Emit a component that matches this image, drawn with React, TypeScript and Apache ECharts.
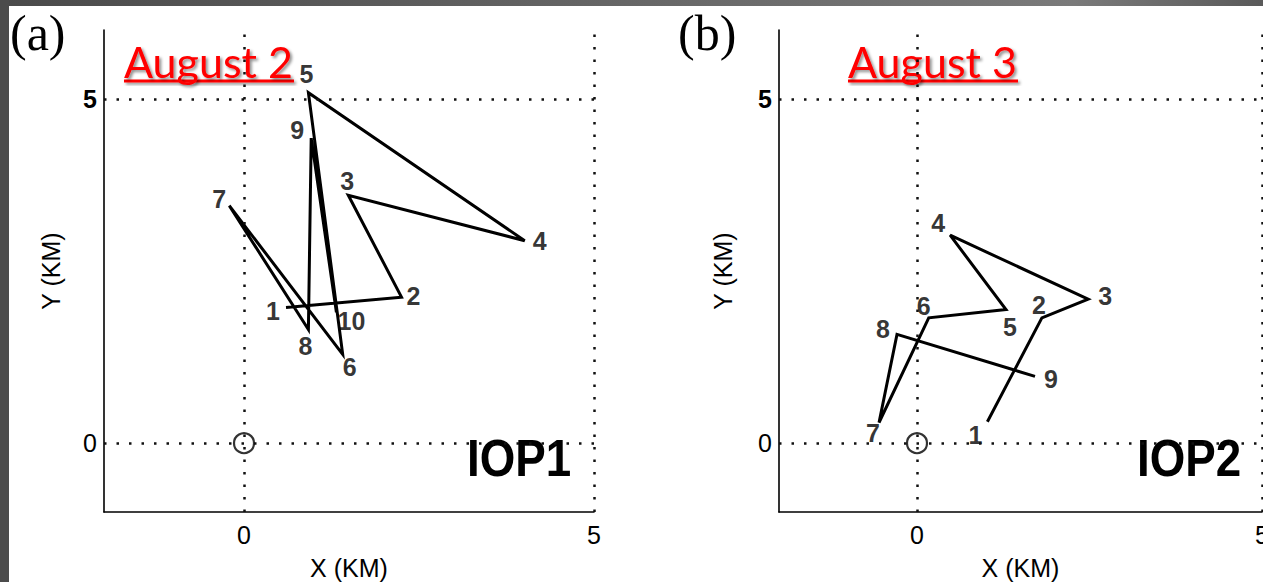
import React, { useEffect, useRef } from 'react';
import * as echarts from 'echarts';

// ---- data ----
const pointNames1 = ['1', '2', '3', '4', '5', '6', '7', '8', '9', '10'];
const iop1X = [0.6, 2.25, 1.49, 4.01, 0.92, 1.41, -0.21, 0.92, 0.96, 1.32];
const iop1Y = [1.97, 2.12, 3.6, 2.94, 5.09, 1.29, 3.45, 1.65, 4.43, 1.9];

const pointNames2 = ['1', '2', '3', '4', '5', '6', '7', '8', '9'];
const iop2X = [1.02, 1.81, 2.48, 0.48, 1.29, 0.17, -0.55, -0.29, 1.71];
const iop2Y = [0.31, 1.82, 2.09, 3.02, 1.94, 1.82, 0.3, 1.58, 0.97];

const xTickValues = [0, 5];
const yTickValues = [0, 5];
const gridLinesX = [0, 5];
const gridLinesY = [0, 5];
const originPoint = [0, 0];

const panelTitles = ['(a)', '(b)'];
const dateTitles = ['August 2', 'August 3'];
const iopTitles = ['IOP1', 'IOP2'];

// label placement (pixel offsets from each vertex)
const labelOffsets1 = [[-13, 4], [12, -1], [-1, -14], [15, 0], [-2, -19], [7, 13], [-10, -7], [-3, 16], [-14, -8], [15, 9]];
const labelOffsets2 = [[-12, 13], [-3, -13], [17, -3], [-12, -12], [4, 17], [-5, -12], [-6, 11], [-14, -5], [16, 3]];

const SANS = '"Liberation Sans", Arial, Helvetica, sans-serif';
const SERIF = '"Liberation Serif", "Times New Roman", serif';
const CAL = 'Lato, "Open Sans", sans-serif';

function axisX(gridIndex: number) {
  return {
    gridIndex,
    type: 'value',
    min: -2,
    max: 5,
    interval: 1,
    axisLine: { show: true, onZero: false, lineStyle: { color: '#000', width: 1.6 } },
    axisTick: { show: false },
    splitLine: { show: false },
    axisLabel: {
      formatter: (v: number) => (xTickValues.includes(v) ? String(v) : ''),
      fontSize: 25,
      color: '#000',
      margin: 10,
      fontFamily: SANS,
      showMinLabel: true,
      showMaxLabel: true,
      hideOverlap: false,
    },
    name: 'X (KM)',
    nameLocation: 'middle',
    nameGap: 43,
    nameTextStyle: { fontSize: 25, color: '#000', fontFamily: SANS },
  };
}

function axisY(gridIndex: number, gap: number) {
  return {
    gridIndex,
    type: 'value',
    min: -1,
    max: 6,
    interval: 1,
    axisLine: { show: true, onZero: false, lineStyle: { color: '#000', width: 1.6 } },
    axisTick: { show: false },
    splitLine: { show: false },
    axisLabel: {
      formatter: (v: number) => (yTickValues.includes(v) ? (v === 5 ? '{b|' + v + '}' : String(v)) : ''),
      fontSize: 25,
      color: '#000',
      margin: 7,
      fontFamily: SANS,
      rich: { b: { fontSize: 25, fontWeight: 'bold', color: '#000', fontFamily: SANS } },
    },
    name: 'Y (KM)',
    nameLocation: 'middle',
    nameGap: gap,
    nameTextStyle: { fontSize: 25, color: '#000', fontFamily: SANS },
  };
}

function panelSeries(idx: number, xs: number[], ys: number[], names: string[], offs: number[][]) {
  return [
    {
      type: 'line',
      xAxisIndex: idx,
      yAxisIndex: idx,
      data: xs.map((x, i) => [x, ys[i]]),
      symbol: 'none',
      lineStyle: { color: '#000', width: 3, join: 'miter' },
      z: 3,
      markLine: {
        silent: true,
        symbol: ['none', 'none'],
        label: { show: false },
        lineStyle: { type: [2.5, 10], color: '#111', width: 2.5 },
        data: [
          ...gridLinesX.map((v) => ({ xAxis: v })),
          ...gridLinesY.map((v) => ({ yAxis: v })),
        ],
      },
    },
    {
      type: 'scatter',
      xAxisIndex: idx,
      yAxisIndex: idx,
      symbolSize: 1,
      itemStyle: { color: 'rgba(0,0,0,0)' },
      z: 4,
      label: {
        show: true,
        position: 'inside',
        formatter: '{b}',
        fontSize: 25,
        fontWeight: 'bold',
        color: '#000',
        textBorderWidth: 0,
        textBorderColor: 'transparent',
        fontFamily: SANS,
      },
      data: names.map((n, i) => ({ name: n, value: [xs[i], ys[i]], label: { offset: offs[i] } })),
    },
    {
      type: 'scatter',
      xAxisIndex: idx,
      yAxisIndex: idx,
      symbol: 'circle',
      symbolSize: 20,
      itemStyle: { color: 'rgba(0,0,0,0)', borderColor: '#000', borderWidth: 2.2 },
      z: 4,
      data: [originPoint],
    },
  ];
}

function titleGraphics(left: number, dateLeft: number, dateWidth: number, iopLeft: number, i: number) {
  return [
    {
      type: 'text',
      x: left,
      y: 33,
      style: { text: panelTitles[i], fontSize: 50, fontFamily: SERIF, fill: '#000', align: 'left', verticalAlign: 'middle' },
    },
    {
      type: 'rect',
      shape: { x: dateLeft, y: 79.5, width: dateWidth, height: 3 },
      style: { fill: '#ff0000', shadowColor: 'rgba(0,0,0,0.45)', shadowBlur: 3, shadowOffsetX: 2, shadowOffsetY: 2 },
    },
    {
      type: 'text',
      x: dateLeft,
      y: 61,
      style: {
        text: dateTitles[i],
        fontSize: 43,
        fontFamily: CAL,
        fill: '#ff0000',
        align: 'left',
        verticalAlign: 'middle',
        textShadowColor: 'rgba(0,0,0,0.45)',
        textShadowBlur: 3,
        textShadowOffsetX: 2,
        textShadowOffsetY: 2,
      },
    },
    {
      type: 'text',
      x: iopLeft,
      y: 458,
      scaleX: 0.88,
      style: { text: iopTitles[i], fontSize: 52, fontWeight: 'bold', fontFamily: SANS, fill: '#000', align: 'left', verticalAlign: 'middle' },
    },
  ];
}

export default function App() {
  const ref = useRef<HTMLDivElement>(null);
  useEffect(() => {
    if (!ref.current) return;
    const chart = echarts.init(ref.current, undefined, { renderer: 'svg' });
    chart.setOption({
      animation: false,
      backgroundColor: '#ffffff',
      grid: [
        { left: 104, top: 30, width: 490, height: 482, outerBoundsMode: 'none', containLabel: false },
        { left: 779, top: 30, width: 483, height: 482, outerBoundsMode: 'none', containLabel: false },
      ],
      xAxis: [axisX(0), axisX(1)],
      yAxis: [axisY(0, 41), axisY(1, 44)],
      series: [
        ...panelSeries(0, iop1X, iop1Y, pointNames1, labelOffsets1),
        ...panelSeries(1, iop2X, iop2Y, pointNames2, labelOffsets2),
      ],
      graphic: [
        {
          type: 'rect',
          shape: { x: 0, y: 0, width: 1263, height: 6 },
          style: {
            fill: new echarts.graphic.LinearGradient(0, 0, 1, 0, [
              { offset: 0, color: '#4a4a4a' },
              { offset: 0.85, color: '#7a7a7a' },
              { offset: 1, color: '#5a5a5a' },
            ]),
          },
        },
        { type: 'rect', shape: { x: 0, y: 0, width: 9, height: 582 }, style: { fill: '#4c4c4c' } },
        ...titleGraphics(10, 124, 170, 467, 0),
        ...titleGraphics(678, 848, 170, 1137, 1),
      ],
    });
    return () => chart.dispose();
  }, []);
  return <div ref={ref} style={{ position: 'fixed', left: 0, top: 0, width: 1263, height: 582 }} />;
}
